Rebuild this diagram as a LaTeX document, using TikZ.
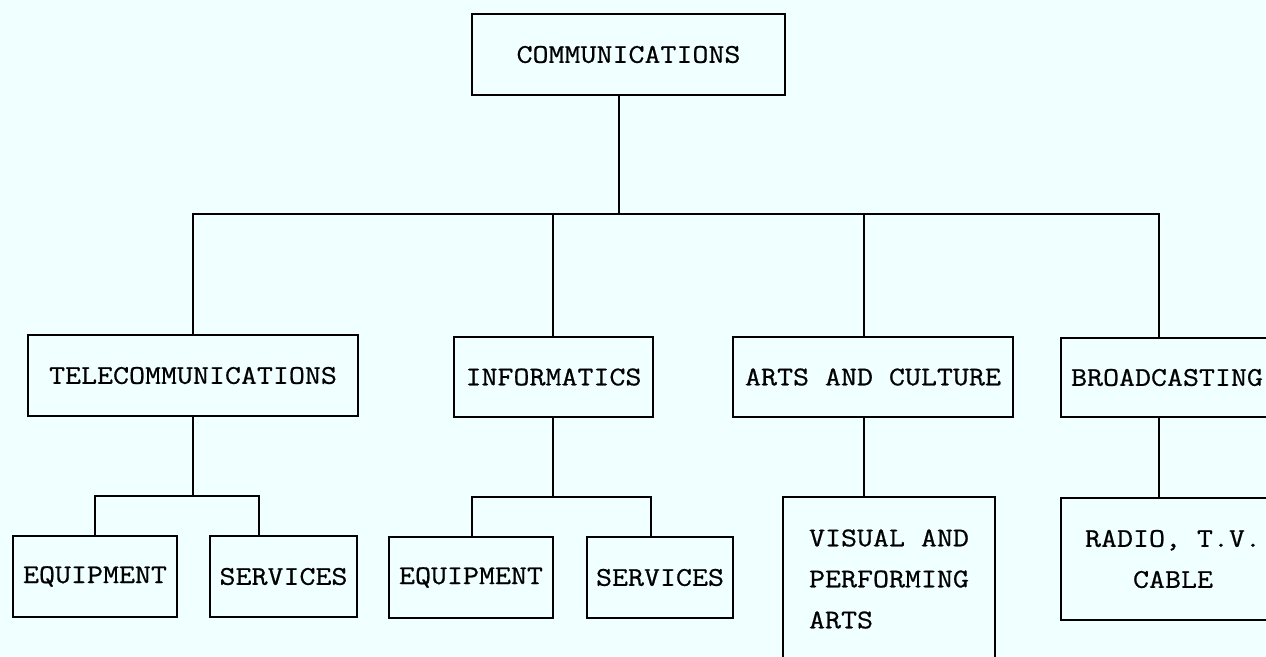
\documentclass[tikz,border=0pt]{standalone}
\usepackage{fontspec}
\setmonofont[FakeBold=0.7,FakeStretch=1.15]{Latin Modern Mono}
\definecolor{bg}{RGB}{240,255,255}
\begin{document}
\begin{tikzpicture}[x=1pt,y=-1pt,
  box/.style={draw, line width=2.2pt, inner sep=0pt, font=\fontsize{27}{41}\selectfont\ttfamily},
  conn/.style={line width=2.2pt, line join=miter}]
\fill[bg] (0,0) rectangle (1266,656);
\useasboundingbox (0,0) rectangle (1266,656);
\clip (0,0) rectangle (1266,656);
% top
\node[box, minimum width=313pt, minimum height=81pt] (comm) at (628.5,54.5) {COMMUNICATIONS};
% second level
\node[box, minimum width=330pt, minimum height=81pt] (tele) at (193,375.5) {TELECOMMUNICATIONS};
\node[box, minimum width=199pt, minimum height=80pt] (info) at (553.5,377) {INFORMATICS};
\node[box, minimum width=280pt, minimum height=80pt] (arts) at (873,377) {ARTS AND CULTURE};
\node[box, minimum width=212pt, minimum height=79pt] (broad) at (1167,377.5) {BROADCASTING};
% third level
\node[box, minimum width=164pt, minimum height=81pt] (teq) at (95,576.5) {EQUIPMENT};
\node[box, minimum width=147pt, minimum height=81pt] (tsv) at (283.5,576.5) {SERVICES};
\node[box, minimum width=164pt, minimum height=81pt] (ieq) at (471,577.5) {EQUIPMENT};
\node[box, minimum width=146pt, minimum height=81pt] (isv) at (660,577.5) {SERVICES};
\node[box, minimum width=212pt, minimum height=164pt, align=left] (vis) at (889,579) {VISUAL AND\\PERFORMING\\ARTS};
\node[box, minimum width=224pt, minimum height=122pt, align=center] (radio) at (1173,559) {RADIO, T.V.\\CABLE};
% junctions
\coordinate (j0) at (619,214);
\coordinate (jt) at (193,214);
\coordinate (ji) at (553,214);
\coordinate (ja) at (864,214);
\coordinate (jb) at (1159,214);
\coordinate (kt) at (193,496);
\coordinate (kte) at (95,496);
\coordinate (kts) at (259,496);
\coordinate (ki) at (553,497);
\coordinate (kie) at (472,497);
\coordinate (kis) at (651,497);
% connectors
\draw[conn] (comm.south -| j0) -- (j0);
\draw[conn] (jt |- tele.north) -- (jt) -- (jb) -- (jb |- broad.north);
\draw[conn] (ji) -- (ji |- info.north);
\draw[conn] (ja) -- (ja |- arts.north);
\draw[conn] (tele.south -| kt) -- (kt);
\draw[conn] (kte |- teq.north) -- (kte) -- (kts) -- (kts |- tsv.north);
\draw[conn] (info.south -| ki) -- (ki);
\draw[conn] (kie |- ieq.north) -- (kie) -- (kis) -- (kis |- isv.north);
\draw[conn] (arts.south -| ja) -- (ja |- vis.north);
\draw[conn] (broad.south -| jb) -- (jb |- radio.north);
\end{tikzpicture}
\end{document}
